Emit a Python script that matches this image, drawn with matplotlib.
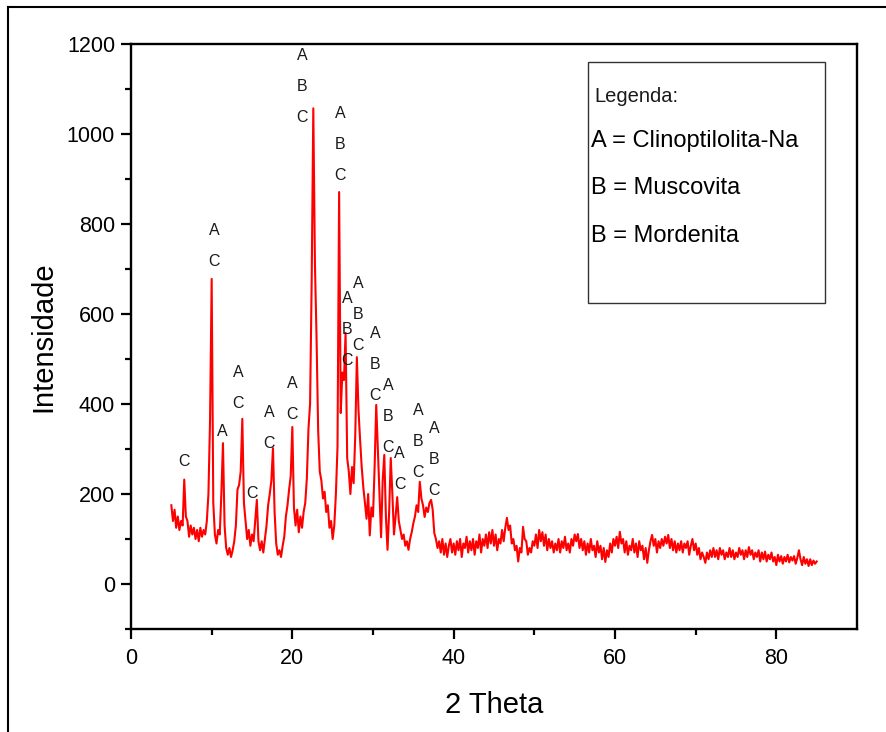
import numpy as np
import matplotlib
matplotlib.use("Agg")
import matplotlib.pyplot as plt
from matplotlib.lines import Line2D
from matplotlib.patches import Rectangle

plt.rcParams['font.family'] = ['Liberation Sans', 'DejaVu Sans']

# ---------------- data ----------------
theta_start = 5.0
theta_step = 0.2

intensity_low = [
    175, 140, 165, 125, 150, 120, 140, 130, 232, 150,
    140, 105, 130, 110, 125, 100, 120, 95, 125, 105,
    120, 110, 140, 200, 365, 678, 180, 110, 90, 120,
    110, 200, 313, 130, 80, 65, 80, 60, 75, 95,
    130, 210, 220, 250, 367, 180, 140, 100, 120, 85,
    110, 95, 140, 187, 95, 75, 95, 70, 100, 130,
    175, 200, 230, 302, 160, 90, 65, 75, 60, 85,
    105, 150, 175, 210, 240, 349, 170, 130, 165, 115,
    150, 125, 160, 180, 235, 345, 400, 675, 1057, 713,
    549, 342, 250, 230, 190, 205, 160, 175, 125, 140,
    100, 130, 200, 305, 871, 380, 470, 453, 558, 280,
    250, 200, 260, 224, 330, 504, 387, 320, 260, 215,
    180, 145, 200, 108, 170, 150, 260, 398, 300, 200,
    104, 230, 287, 150, 76, 160, 280, 200, 110, 150,
    193, 140, 120, 100, 110, 85, 95, 76, 100, 115,
    135, 150, 175, 160, 227, 190, 175, 149, 170, 160,
    180, 187, 165, 113, 100, 80,
]

intensity_high = [
    95, 70, 100, 65, 90, 60, 85, 100, 70, 90,
    65, 95, 75, 100, 60, 90, 80, 105, 70, 95,
    75, 100, 65, 95, 80, 110, 70, 100, 85, 110,
    80, 115, 90, 120, 85, 110, 75, 100, 90, 120,
    95, 125, 147, 120, 130, 90, 100, 75, 85, 50,
    80, 70, 127, 100, 95, 65, 80, 70, 95, 85,
    110, 80, 120, 95, 115, 85, 110, 75, 100, 80,
    95, 70, 90, 75, 100, 70, 95, 80, 105, 75,
    90, 70, 100, 85, 110, 95, 111, 80, 100, 75,
    95, 65, 90, 70, 100, 75, 85, 60, 95, 70,
    85, 55, 80, 49, 75, 60, 90, 70, 100, 85,
    105, 80, 116, 90, 100, 70, 95, 65, 85, 75,
    100, 70, 90, 60, 95, 75, 85, 55, 80, 47,
    75, 95, 109, 85, 100, 70, 95, 80, 100, 85,
    105, 90, 109, 80, 100, 75, 95, 70, 90, 75,
    95, 70, 90, 80, 95, 65, 85, 100, 75, 90,
    65, 80, 55, 70, 60, 47, 70, 55, 75, 60,
    80, 60, 75, 55, 80, 65, 75, 55, 70, 60,
    80, 60, 75, 55, 70, 60, 80, 65, 75, 55,
    75, 60, 82, 65, 75, 55, 70, 60, 75, 50,
    70, 55, 72, 50, 65, 55, 70, 50, 60, 42,
    65, 50, 62, 45, 60, 50, 65, 48, 60, 52,
    62, 45, 58, 75, 55, 42, 60, 45, 55, 40,
    55, 42, 52, 45, 50,
]

intensity = np.array(intensity_low + intensity_high, dtype=float)
theta = np.round(theta_start + theta_step * np.arange(len(intensity)), 2)

# peak labels: x, y of lowest letter, letters (top to bottom)
label_x = [6.6, 10.3, 11.3, 13.3, 15.0, 17.1, 20.0, 21.2, 25.9, 26.8,
           28.2, 30.3, 31.9, 33.3, 35.6, 37.6]
label_y = [273, 716, 338, 402, 202, 313, 376, 1036, 907, 496,
           531, 420, 304, 222, 247, 207]
label_txt = ["C", "AC", "A", "AC", "C", "AC", "AC", "ABC", "ABC", "ABC",
             "ABC", "ABC", "ABC", "AC", "ABC", "ABC"]

legend_title = "Legenda:"
legend_lines = ["A = Clinoptilolita-Na", "B = Muscovita", "B = Mordenita"]

x_ticks = [0, 20, 40, 60, 80]
y_ticks = [0, 200, 400, 600, 800, 1000, 1200]

# ---------------- figure ----------------
W, H = 887, 732
fig = plt.figure(figsize=(W / 100, H / 100), dpi=100)
ax = fig.add_axes([131 / W, 1 - 629 / H, (857 - 131) / W, (629 - 44) / H])

ax.plot(theta, intensity, color='#ff0000', lw=1.5)

ax.set_xlim(0, 90)
ax.set_ylim(-100, 1200)
ax.set_xticks(x_ticks)
ax.set_yticks(y_ticks)
ax.set_xticks(np.arange(10, 90, 20), minor=True)
ax.set_yticks(np.arange(-100, 1200, 200), minor=True)
ax.tick_params(which='both', direction='out', width=1.6, colors='black',
               top=False, right=False)
ax.tick_params(which='major', length=7.5, labelsize=15.5)
ax.tick_params(axis='x', which='major', pad=6)
ax.tick_params(axis='y', which='major', pad=4)
ax.tick_params(which='minor', length=4)
for s in ax.spines.values():
    s.set_linewidth(1.7)

ax.set_xlabel("2 Theta", fontsize=21, labelpad=16)
ax.set_ylabel("Intensidade", fontsize=21, labelpad=7)

# peak letters
for x, y, txt in zip(label_x, label_y, label_txt):
    n = len(txt)
    for i, ch in enumerate(txt):
        off = (n - 1 - i) * 22.3
        ax.annotate(ch, (x, y), xytext=(0, off), textcoords='offset points',
                    ha='center', va='center', fontsize=11.5, color='#1a1a1a')

# legend box
ax.add_patch(Rectangle((0.630, 0.557), 0.326, 0.412, transform=ax.transAxes,
                       fill=False, lw=1.0, ec='#333333'))
fig.text(594 / W, 1 - 97 / H, legend_title, fontsize=14.5, ha='left',
         va='center', color='#1a1a1a')
for i, t in enumerate(legend_lines):
    fig.text(591 / W, 1 - (141 + 47.5 * i) / H, t, fontsize=17, ha='left',
             va='center', color='black')

# outer frame (left and top edges)
fig.add_artist(Line2D([8 / W, 8 / W], [0, 1 - 7 / H], transform=fig.transFigure,
                      color='black', lw=1.5))
fig.add_artist(Line2D([8 / W, 1], [1 - 7 / H, 1 - 7 / H], transform=fig.transFigure,
                      color='black', lw=1.5))

fig.savefig("out.png", dpi=100)
